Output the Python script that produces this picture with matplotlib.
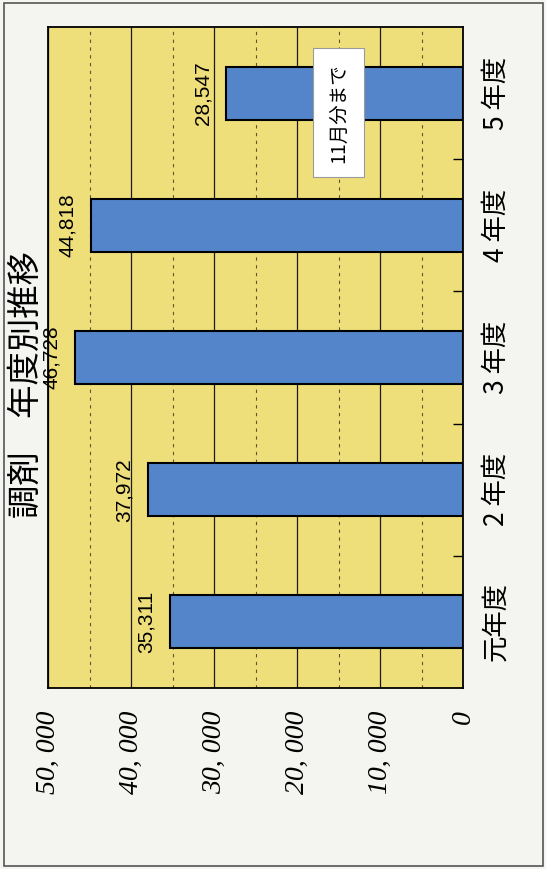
import matplotlib
matplotlib.use("Agg")
import matplotlib.pyplot as plt
from matplotlib.patches import Rectangle
from matplotlib.ticker import MultipleLocator

# データ(元年度〜5年度の調剤件数)
categories = ['元年度', '2 年度', '3 年度', '4 年度', '5 年度']
values = [35311, 37972, 46728, 44818, 28547]
value_labels = ['35,311', '37,972', '46,728', '44,818', '28,547']
value_ticks = [0, 10000, 20000, 30000, 40000, 50000]
value_tick_labels = ['0', '10, 000', '20, 000', '30, 000', '40, 000', '50, 000']
title = '調剤　年度別推移'
note = '11月分まで'

jp = ['Noto Sans CJK JP', 'DejaVu Sans']

fig = plt.figure(figsize=(5.46, 8.69), dpi=100, facecolor='#f4f4f1')
ax = fig.add_axes([48 / 546, 1 - 688 / 869, 415 / 546, 661 / 869])
ax.set_facecolor('#efdf7a')

y = list(range(len(categories)))
ax.barh(y, values, height=0.4, color='#5485cb', edgecolor='black', linewidth=1.5, zorder=3)

# 値軸(右が0、左が50,000)
ax.set_xlim(50000, 0)
ax.set_ylim(-0.5, len(categories) - 0.5)
ax.set_xticks(value_ticks)
ax.set_xticklabels(value_tick_labels, rotation=90, fontstyle='italic',
                   family='Liberation Serif', fontsize=20)
ax.xaxis.set_minor_locator(MultipleLocator(5000))
ax.tick_params(axis='x', which='both', length=0, pad=16)
ax.grid(axis='x', which='major', color='#1a1a1a', linewidth=0.9, zorder=1)
ax.grid(axis='x', which='minor', color='#5e5530', linewidth=0.8, linestyle=(0, (3, 4)), zorder=1)
ax.set_axisbelow(True)

# 項目軸(右側)
ax.yaxis.tick_right()
ax.set_yticks(y)
ax.set_yticklabels(categories, rotation=90, va='center', fontstyle='italic',
                   family=jp, fontsize=19)
ax.set_yticks([i + 0.5 for i in y[:-1]], minor=True)
ax.tick_params(axis='y', which='major', length=0, pad=14)
ax.tick_params(axis='y', which='minor', direction='in', length=7, width=1, right=True, left=False)

for sp in ax.spines.values():
    sp.set_color('black')
    sp.set_linewidth(1.3)

# 棒の先に数値
for i, (v, lbl) in enumerate(zip(values, value_labels)):
    ax.annotate(lbl, xy=(v, i), xytext=(-10, 0), textcoords='offset points',
                rotation=90, ha='right', va='center', fontsize=15,
                family='Liberation Sans', zorder=5, annotation_clip=False)

ax.text(15000, 3.85, note, rotation=90, ha='center', va='center', fontsize=14,
        family=jp, zorder=6,
        bbox=dict(boxstyle='square,pad=0.75', fc='white', ec='#9a9a9a', lw=0.8))

fig.text(26 / 546, 1 - 385 / 869, title, rotation=90, ha='center', va='center',
         fontsize=24, family=jp)

fig.patches.append(Rectangle((4 / 546, 3 / 869), 539 / 546, 863 / 869,
                             transform=fig.transFigure, fill=False,
                             edgecolor='#555555', linewidth=1.2))

fig.savefig('out.png', dpi=100, facecolor=fig.get_facecolor())
